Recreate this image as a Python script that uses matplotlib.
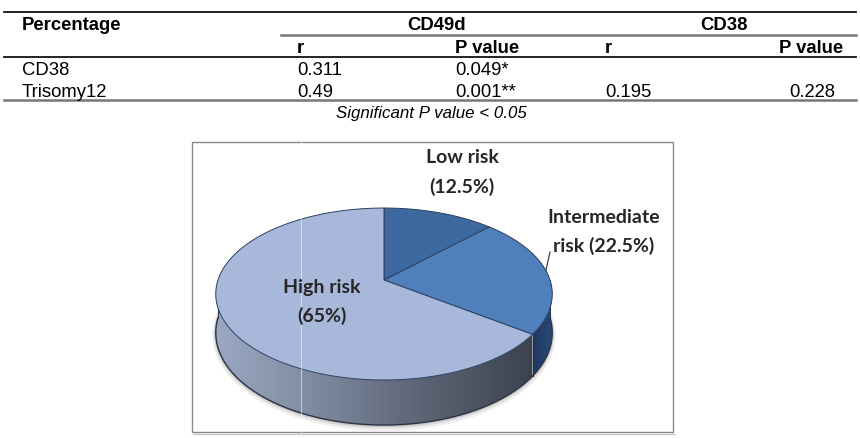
import numpy as np
import matplotlib
matplotlib.use("Agg")
import matplotlib.pyplot as plt
from matplotlib.patches import Polygon, Rectangle
from matplotlib.colors import LinearSegmentedColormap

# ---------------- data ----------------
table_col_groups = ["CD49d", "CD38"]
table_sub_headers = ["r", "P value", "r", "P value"]
table_row_labels = ["CD38", "Trisomy12"]
table_cd49d_r = ["0.311", "0.49"]
table_cd49d_p = ["0.049*", "0.001**"]
table_cd38_r = ["", "0.195"]
table_cd38_p = ["", "0.228"]
table_corner = "Percentage"
table_note = "Significant P value < 0.05"

risk_names = ["Low risk", "Intermediate", "High risk"]
risk_values = [12.5, 22.5, 65.0]
risk_top_colors = ["#3e68a0", "#4f80bc", "#a7b8da"]

# ---------------- figure ----------------
fig = plt.figure(figsize=(8.6, 4.38), dpi=100)
ax = fig.add_axes([0, 0, 1, 1])
ax.set_xlim(0, 860)
ax.set_ylim(438, 0)
ax.axis("off")

tfont = "Liberation Sans"
fs = 13.3

# table rules
ax.plot([4, 856], [12, 12], color="#111111", lw=1.3)
ax.plot([281, 856], [34.7, 34.7], color="#777777", lw=1.8)
ax.plot([4, 856], [57.3, 57.3], color="#111111", lw=1.3)
ax.plot([4, 856], [100, 100], color="#777777", lw=1.8)

ax.text(22, 30, table_corner, family=tfont, fontsize=fs, weight="bold", va="baseline")
ax.text(437, 30, table_col_groups[0], family=tfont, fontsize=fs, weight="bold", ha="center", va="baseline")
ax.text(724, 30, table_col_groups[1], family=tfont, fontsize=fs, weight="bold", ha="center", va="baseline")

sub_x = [297, 455, 605, 779]
for x, s in zip(sub_x, table_sub_headers):
    ax.text(x, 53.3, s, family=tfont, fontsize=fs, weight="bold", va="baseline")

row_y = [75, 96.7]
data_x = [297, 455, 605, 789]
for i, lab in enumerate(table_row_labels):
    ax.text(22, row_y[i], lab, family=tfont, fontsize=fs, va="baseline")
    for x, col in zip(data_x, [table_cd49d_r, table_cd49d_p, table_cd38_r, table_cd38_p]):
        if col[i]:
            ax.text(x, row_y[i], col[i], family=tfont, fontsize=fs, va="baseline")

ax.text(431, 118.3, table_note, family=tfont, fontsize=12.2, style="italic", ha="center", va="baseline")

# ---------------- chart box ----------------
ax.add_patch(Rectangle((192, 142), 481, 290, fill=False, edgecolor="#8a8a8a", lw=1.0, zorder=1))
ax.plot([193, 674], [433.5, 433.5], color="#c8c8c8", lw=1.0, zorder=1)

# ---------------- 3D pie ----------------
cx, cy = 384.0, 280.0
a, b, k, D = 166.0, 83.7, 0.163, 37.7


def proj(phi_deg, depth=0.0):
    p = np.radians(phi_deg)
    s = 1.0 / (1.0 + k * np.sin(p))
    x = cx + a * np.cos(p) * s
    y = cy - b * np.sin(p) * s + depth * D * s
    return x, y


def gradient_fill(verts, colors_list, zorder):
    patch = Polygon(verts, closed=True, facecolor="none", edgecolor="none", zorder=zorder)
    ax.add_patch(patch)
    xs = verts[:, 0]
    ys = verts[:, 1]
    cmap = LinearSegmentedColormap.from_list("g", colors_list)
    grad = np.linspace(0, 1, 256).reshape(1, -1)
    im = ax.imshow(grad, cmap=cmap, extent=(xs.min(), xs.max(), ys.max(), ys.min()),
                   aspect="auto", zorder=zorder, interpolation="bilinear")
    im.set_clip_path(patch)


wall_colors = [["#203a62", "#1c3358"], ["#1f3860", "#2a4a76"], ["#9aa8c2", "#7d889e", "#5a6272", "#3c424e"]]

total = sum(risk_values)
cum = np.concatenate([[0], np.cumsum(risk_values)])
angles = 90 - cum / total * 360.0

# soft shadow under the pie
sh_phi = np.linspace(-185, 5, 400)
shx, shy = proj(sh_phi, 1.0)
for off, lw, al in [(2.5, 5, 0.08), (1.5, 3, 0.12), (0.8, 1.6, 0.18)]:
    ax.plot(shx, shy + off, color="#555555", lw=lw, alpha=al, zorder=1.5,
            solid_capstyle="round")

# walls
for i in range(len(risk_values)):
    phis = np.linspace(angles[i], angles[i + 1], 400)
    vis = np.sin(np.radians(phis)) <= 0.0
    if not vis.any():
        continue
    ph = phis[vis]
    tx, ty = proj(ph)
    bx, by = proj(ph, 1.0)
    verts = np.column_stack([np.concatenate([tx, bx[::-1]]), np.concatenate([ty, by[::-1]])])
    gradient_fill(verts, wall_colors[i], zorder=2)
    ax.plot(bx, by, color="#2b3445", lw=1.0, zorder=3)
    for j in (0, -1):
        ax.plot([tx[j], bx[j]], [ty[j], by[j]], color="#22304a", lw=0.7, zorder=3)

# tops
for i in range(len(risk_values)):
    phis = np.linspace(angles[i], angles[i + 1], 400)
    tx, ty = proj(phis)
    verts = np.column_stack([np.concatenate([[cx], tx]), np.concatenate([[cy], ty])])
    ax.add_patch(Polygon(verts, closed=True, facecolor=risk_top_colors[i],
                         edgecolor="#2c3f60", lw=0.7, zorder=4))

# faint vertical scan artifact
ax.plot([301, 301], [142, 432], color="white", lw=0.8, alpha=0.5, zorder=6)

# labels
lfont = "Lato"
lfs = 14
lab_color = "#262626"
label_lines = [
    (risk_names[0], f"({risk_values[0]:g}%)", 462, 163.3, 193.3),
    (risk_names[1], f"risk ({risk_values[1]:g}%)", 604, 222.7, 251.7),
    (risk_names[2], f"({risk_values[2]:g}%)", 322, 293.3, 321.7),
]
for l1, l2, x, y1, y2 in label_lines:
    ax.text(x, y1, l1, family=lfont, weight="bold", fontsize=lfs, ha="center", va="baseline",
            color=lab_color, zorder=7)
    ax.text(x, y2, l2, family=lfont, weight="bold", fontsize=lfs, ha="center", va="baseline",
            color=lab_color, zorder=7)

# leader line
ax.plot([550, 546], [252, 270], color="#404040", lw=0.9, zorder=7)

ax.set_xlim(0, 860)
ax.set_ylim(438, 0)
fig.savefig("out.png", dpi=100, facecolor="white")
